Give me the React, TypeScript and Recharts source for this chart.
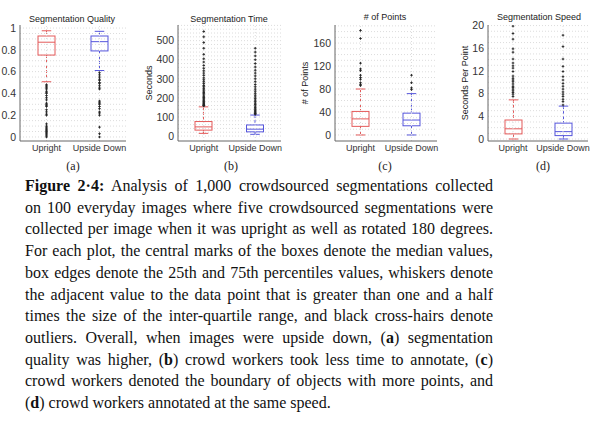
import { ComposedChart, Bar, Scatter, XAxis, YAxis, CartesianGrid, ReferenceLine } from 'recharts'

const groups = ['Upright', 'Upside Down']

// [lower whisker, q1, median, q3, upper whisker] for Upright / Upside Down
const qualityBoxes = [
  [0.507, 0.752, 0.87, 0.927, 0.975],
  [0.61, 0.79, 0.875, 0.927, 0.97],
]
const qualityOutUp = [0.48, 0.47, 0.46, 0.45, 0.44, 0.42, 0.41, 0.4, 0.38, 0.36, 0.34, 0.31, 0.3, 0.29, 0.28, 0.25, 0.23, 0.21, 0.2, 0.12, 0.1, 0.09, 0.08, 0.07, 0.06, 0.05, 0.04, 0.03, 0.02, 0.01, 0]
const qualityOutDown = [0.59, 0.57, 0.55, 0.53, 0.52, 0.5, 0.49, 0.47, 0.45, 0.44, 0.33, 0.32, 0.31, 0.3, 0.28, 0.26, 0.23, 0.22, 0.2, 0.09, 0.03, 0]

const timeBoxes = [
  [14, 31, 48, 76, 153],
  [9, 22, 36, 58, 110],
]
const timeOutUp = [158, 160, 163, 166, 170, 175, 180, 185, 190, 196, 202, 208, 215, 222, 228, 235, 242, 250, 258, 265, 275, 285, 295, 305, 318, 330, 342, 355, 370, 388, 405, 428, 460, 490, 520, 548]
const timeOutDown = [114, 118, 122, 127, 132, 137, 143, 150, 157, 165, 172, 180, 188, 196, 205, 214, 224, 235, 246, 258, 270, 285, 300, 315, 330, 345, 362, 380, 400, 420, 440, 460]

const pointBoxes = [
  [0, 15, 28, 41, 80],
  [0, 16, 26, 38, 72],
]
const pointOutUp = [86, 88, 91, 97, 100, 104, 112, 115, 125, 168, 182]
const pointOutDown = [79, 82, 91, 104]

const speedBoxes = [
  [0, 0.9, 1.8, 3.35, 6.9],
  [0, 0.6, 1.3, 2.8, 5.8],
]
const speedOutUp = [7.5, 7.9, 8.2, 8.5, 8.8, 9.1, 9.3, 9.7, 10.1, 10.4, 10.7, 11.1, 11.9, 12.5, 12.9, 13.4, 14.1, 15.3, 15.9, 17.6, 18.6, 19.9]
const speedOutDown = [6.0, 6.6, 7.0, 7.5, 7.9, 8.3, 8.8, 9.3, 9.8, 10.4, 11.0, 11.9, 12.8, 14.1, 16.3, 18.3]

const boxColors: Record<string, string> = { Upright: '#e45a5a', 'Upside Down': '#5656dc' }
const axisFont = 'Liberation Sans, Arial, sans-serif'
const serif = 'Liberation Serif, Times New Roman, serif'
const gridColor = '#dcdcdc'

function range(from: number, to: number, step: number) {
  const out: number[] = []
  for (let v = from; v <= to + step / 1000; v += step) out.push(Math.round(v * 1000) / 1000)
  return out
}

function BoxShape(props: any) {
  const { x, y, width, height, payload } = props
  const { lo, q1, med, q3, hi, group } = payload
  const k = height / (hi - lo)
  const py = (v: number) => y + (hi - v) * k
  const cx = x + width / 2
  const cap = width * 0.28
  return (
    <g fill="none" stroke={boxColors[group]} strokeWidth={1}>
      <line x1={cx} x2={cx} y1={py(hi)} y2={py(q3)} strokeDasharray="3 2" />
      <line x1={cx} x2={cx} y1={py(q1)} y2={py(lo)} strokeDasharray="3 2" />
      <line x1={cx - cap} x2={cx + cap} y1={py(hi)} y2={py(hi)} />
      <line x1={cx - cap} x2={cx + cap} y1={py(lo)} y2={py(lo)} />
      <rect x={x} y={py(q3)} width={width} height={py(q1) - py(q3)} />
      <line x1={x} x2={x + width} y1={py(med)} y2={py(med)} />
    </g>
  )
}

function Cross(props: any) {
  const { cx, cy } = props
  if (cx == null || cy == null) return <g />
  return <path d={`M${cx - 1.3},${cy}H${cx + 1.3}M${cx},${cy - 1.3}V${cy + 1.3}`} stroke="#222" strokeWidth={0.9} />
}

interface PanelProps {
  title: string
  ylabel?: string
  ylabelX?: number
  boxes: number[][]
  outUp: number[]
  outDown: number[]
  domain: [number, number]
  ticks: number[]
  minor: number[]
  plotLeft: number
  plotRight: number
  titleX: number
  titleY: number
  tag: string
  tagX: number
}

function BoxPanel(p: PanelProps) {
  const yw = 30
  const mr = 14 // room for the right-hand category label
  const rows = groups.map((g, i) => {
    const [lo, q1, med, q3, hi] = p.boxes[i]
    return { group: g, lo, q1, med, q3, hi }
  })
  const outliers = [
    ...p.outUp.map(v => ({ group: groups[0], value: v })),
    ...p.outDown.map(v => ({ group: groups[1], value: v })),
  ]
  const width = p.plotRight - p.plotLeft + yw + mr
  return (
    <>
      <div style={{ position: 'absolute', left: p.plotLeft - yw, top: 0 }}>
        <ComposedChart width={width} height={161} data={rows} margin={{ top: 25, right: mr, bottom: 0, left: 0 }}>
          <CartesianGrid vertical={false} horizontalValues={p.minor} stroke={gridColor} strokeDasharray="1 2" />
          {groups.map(g => (
            <ReferenceLine key={g} x={g} stroke={gridColor} strokeDasharray="1 2" />
          ))}
          <XAxis dataKey="group" allowDuplicatedCategory={false} height={20} tickLine={false} tickSize={0} tickMargin={4}
            stroke="#666" tick={{ fontSize: 9, fill: '#333', fontFamily: axisFont }} />
          <XAxis xAxisId="top" orientation="top" dataKey="group" allowDuplicatedCategory={false} height={0} tick={false} tickLine={false} stroke="#666" />
          <YAxis type="number" domain={p.domain} ticks={p.ticks} interval={0} allowDataOverflow width={yw} tickLine={false}
            tickSize={0} tickMargin={4} stroke="#666" tick={{ fontSize: 10.5, fill: '#333', fontFamily: axisFont }} />
          <YAxis yAxisId="right" orientation="right" width={0} tick={false} tickLine={false} stroke="#666" domain={p.domain} />
          <Bar dataKey={(d: any) => [d.lo, d.hi]} barSize={17} shape={BoxShape} isAnimationActive={false} />
          <Scatter data={outliers} dataKey="value" shape={Cross} isAnimationActive={false} />
        </ComposedChart>
      </div>
      <div style={{ position: 'absolute', left: p.titleX, top: p.titleY, transform: 'translate(-50%, -50%)', whiteSpace: 'nowrap',
        fontFamily: axisFont, fontSize: 9, color: '#222' }}>{p.title}</div>
      {p.ylabel && (
        <div style={{ position: 'absolute', left: p.ylabelX, top: 83, transform: 'translate(-50%, -50%) rotate(-90deg)', whiteSpace: 'nowrap',
          fontFamily: axisFont, fontSize: 9, color: '#222' }}>{p.ylabel}</div>
      )}
      <div style={{ position: 'absolute', left: p.tagX, top: 166, transform: 'translate(-50%, -50%)', fontFamily: serif, fontSize: 12, color: '#222' }}>
        {p.tag}
      </div>
    </>
  )
}

const lineH = 21.7

function Line({ i, children, last }: { i: number; children: any; last?: boolean }) {
  return (
    <div style={{ position: 'absolute', left: 25, width: 468, top: 175 + i * lineH, height: lineH, lineHeight: `${lineH}px`,
      textAlign: 'justify', textAlignLast: last ? 'left' : 'justify', whiteSpace: 'nowrap' as any }}>
      {children}
    </div>
  )
}

export default function App() {
  return (
    <div style={{ position: 'absolute', left: 0, top: 0, width: 597, height: 436, background: '#fff', overflow: 'hidden' }}>
      <BoxPanel title="Segmentation Quality" boxes={qualityBoxes} outUp={qualityOutUp} outDown={qualityOutDown}
        domain={[-0.037, 1.028]} ticks={[0, 0.2, 0.4, 0.6, 0.8, 1]} minor={range(0, 1, 0.05)}
        plotLeft={20} plotRight={126} titleX={72} titleY={19} tag="(a)" tagX={73} />
      <BoxPanel title="Segmentation Time" ylabel="Seconds" ylabelX={149} boxes={timeBoxes} outUp={timeOutUp} outDown={timeOutDown}
        domain={[-26, 582]} ticks={[0, 100, 200, 300, 400, 500]} minor={range(0, 580, 20)}
        plotLeft={178} plotRight={281} titleX={229} titleY={19} tag="(b)" tagX={231} />
      <BoxPanel title="# of Points" ylabel="# of Points" ylabelX={305} boxes={pointBoxes} outUp={pointOutUp} outDown={pointOutDown}
        domain={[-10.5, 191.5]} ticks={[0, 40, 80, 120, 160]} minor={range(0, 190, 10)}
        plotLeft={335} plotRight={437} titleX={385} titleY={17} tag="(c)" tagX={385} />
      <BoxPanel title="Segmentation Speed" ylabel="Seconds Per Point" ylabelX={465} boxes={speedBoxes} outUp={speedOutUp} outDown={speedOutDown}
        domain={[-0.35, 20.1]} ticks={[0, 4, 8, 12, 16, 20]} minor={range(0, 20, 1)}
        plotLeft={488} plotRight={588} titleX={539} titleY={17} tag="(d)" tagX={543} />

      <div style={{ fontFamily: serif, fontSize: 16, color: '#111' }}>
        <Line i={0}><b>Figure 2·4:</b> Analysis of 1,000 crowdsourced segmentations collected</Line>
        <Line i={1}>on 100 everyday images where five crowdsourced segmentations were</Line>
        <Line i={2}>collected per image when it was upright as well as rotated 180 degrees.</Line>
        <Line i={3}>For each plot, the central marks of the boxes denote the median values,</Line>
        <Line i={4}>box edges denote the 25th and 75th percentiles values, whiskers denote</Line>
        <Line i={5}>the adjacent value to the data point that is greater than one and a half</Line>
        <Line i={6}>times the size of the inter-quartile range, and black cross-hairs denote</Line>
        <Line i={7}>outliers. Overall, when images were upside down, (<b>a</b>) segmentation</Line>
        <Line i={8}>quality was higher, (<b>b</b>) crowd workers took less time to annotate, (<b>c</b>)</Line>
        <Line i={9}>crowd workers denoted the boundary of objects with more points, and</Line>
        <Line i={10} last>(<b>d</b>) crowd workers annotated at the same speed.</Line>
      </div>
    </div>
  )
}
